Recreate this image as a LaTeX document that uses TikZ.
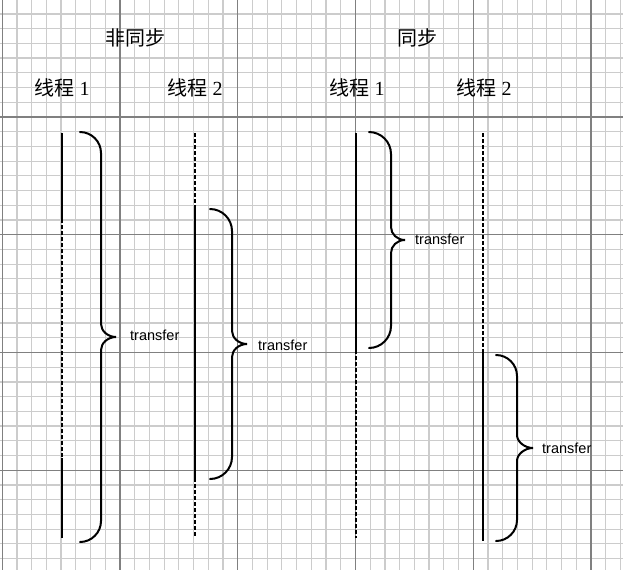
\documentclass[tikz,border=0pt]{standalone}
\usepackage{fontspec}
\setmainfont{Liberation Serif}
\newfontfamily\cjk{Noto Sans CJK SC}
\newfontfamily\lsans{Liberation Sans}
\tikzset{
  minorgrid/.style={draw=black!20, line width=1.2pt},
  majorgrid/.style={draw=black!50, line width=1.1pt},
  thread/.style={draw=black, line width=2pt},
  threaddash/.style={draw=black, line width=2pt, dash pattern=on 4pt off 2pt},
  brace/.style={draw=black, line width=2pt, line cap=round},
  title/.style={font=\fontsize{20}{24}\selectfont\cjk, inner sep=0pt},
  thlabel/.style={font=\fontsize{20}{24}\selectfont, inner sep=0pt},
  xferlabel/.style={font=\fontsize{14.5}{17}\selectfont\lsans, anchor=west, inner sep=0pt},
}
% brace: #1 x start, #2 x vertical, #3 x tip, #4 y top, #5 y bottom
\newcommand{\tbrace}[5]{%
  \pgfmathsetmacro{\ym}{(#4+#5)/2}%
  \pgfmathsetmacro{\rr}{#2-#1}%
  \draw[brace] (#1,#4) .. controls ({#1+0.55*\rr},#4) and (#2,{#4+0.45*\rr}) .. (#2,{#4+\rr})
    -- (#2,{\ym-13}) .. controls (#2,{\ym-6}) and ({#3-8},\ym) .. (#3,\ym)
    .. controls ({#3-8},\ym) and (#2,{\ym+6}) .. (#2,{\ym+13})
    -- (#2,{#5-\rr}) .. controls (#2,{#5-0.45*\rr}) and ({#1+0.55*\rr},#5) .. (#1,#5);}
\begin{document}
\begin{tikzpicture}[x=1pt,y=-1pt]
\useasboundingbox (0,0) rectangle (623,570);
\fill[white] (0,0) rectangle (623,570);
\begin{scope}
\clip (0,0) rectangle (623,570);
% minor grid
\foreach \i in {0,...,42} {
  \draw[minorgrid] ({2.2+14.72*\i},0) -- ({2.2+14.72*\i},570);
}
\foreach \j in {0,...,39} {
  \draw[minorgrid] (0,{-0.8+14.72*\j}) -- (623,{-0.8+14.72*\j});
}
% major grid
\foreach \i in {0,8,16,24,32,40} {
  \draw[majorgrid] ({2.2+14.72*\i},0) -- ({2.2+14.72*\i},570);
}
\foreach \j in {0,8,16,24,32} {
  \draw[majorgrid] (0,{-0.8+14.72*\j}) -- (623,{-0.8+14.72*\j});
}
\end{scope}

% titles
\node[title] (tasync) at (135,38) {非同步};
\node[title] (tsync) at (417,38) {同步};
\node[thlabel] (a1) at (62,88) {{\cjk 线程} 1};
\node[thlabel] (a2) at (195,88) {{\cjk 线程} 2};
\node[thlabel] (s1) at (357,88) {{\cjk 线程} 1};
\node[thlabel] (s2) at (484,88) {{\cjk 线程} 2};

% asynchronous thread 1
\draw[thread] (62,133) -- (62,219);
\draw[threaddash] (62,219) -- (62,458);
\draw[thread] (62,458) -- (62,538);
% asynchronous thread 2
\draw[threaddash] (195,133) -- (195,207);
\draw[thread] (195,207) -- (195,478);
\draw[threaddash] (195,478) -- (195,537);
% synchronous thread 1
\draw[thread] (356,133) -- (356,350);
\draw[threaddash] (356,350) -- (356,538);
% synchronous thread 2
\draw[threaddash] (483,133) -- (483,349);
\draw[thread] (483,349) -- (483,541);

% braces
\tbrace{80}{101}{116}{132}{542}
\tbrace{210}{232}{247}{209}{479}
\tbrace{369}{391}{405}{132}{348}
\tbrace{496}{517}{533}{355}{541}

% labels
\node[xferlabel] (x1) at (130,335) {transfer};
\node[xferlabel] (x2) at (258,345) {transfer};
\node[xferlabel] (x3) at (415,239) {transfer};
\node[xferlabel] (x4) at (542,448) {transfer};
\end{tikzpicture}
\end{document}
